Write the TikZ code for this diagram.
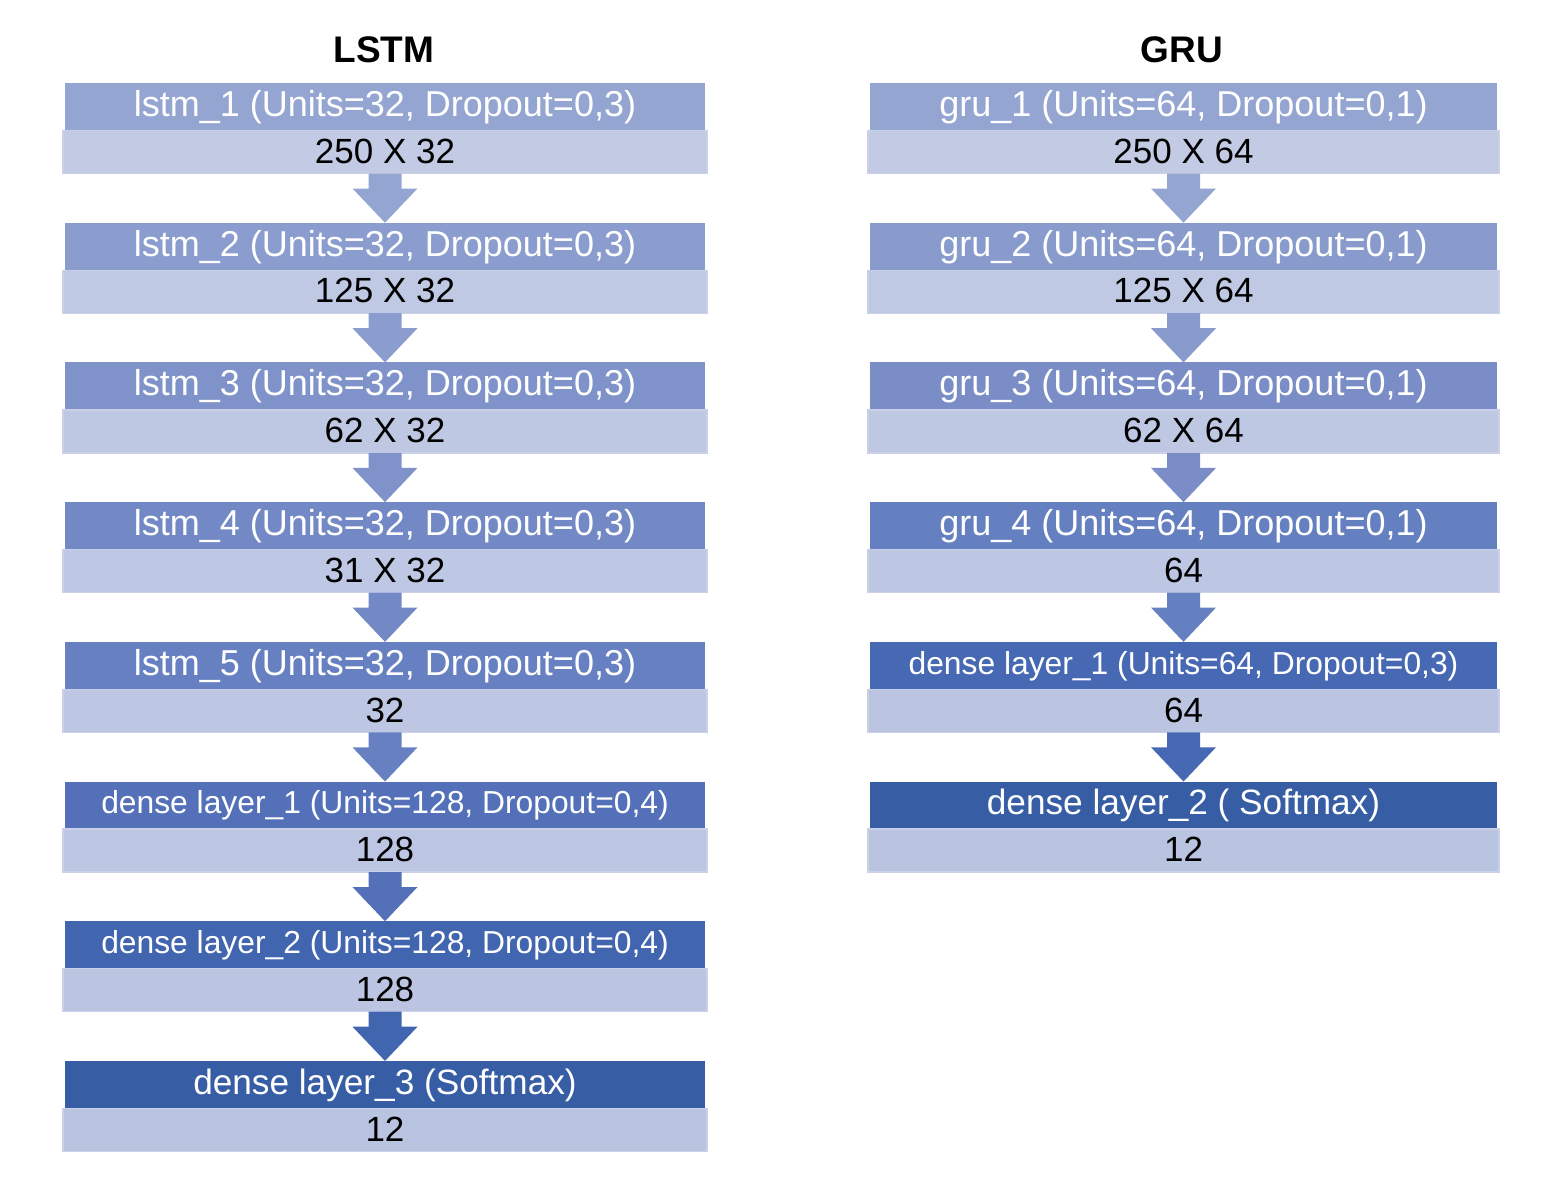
\documentclass[tikz,border=0pt]{standalone}
\usepackage{fontspec}
\setmainfont{Liberation Sans}
\usetikzlibrary{calc}
\definecolor{hA}{HTML}{95A5D2}
\definecolor{hB}{HTML}{8A9DCE}
\definecolor{hC}{HTML}{7F93CA}
\definecolor{hD}{HTML}{7289C6}
\definecolor{hE}{HTML}{6780C2}
\definecolor{hF}{HTML}{5370B9}
\definecolor{hG}{HTML}{4265B0}
\definecolor{hH}{HTML}{375DA4}
\definecolor{gA}{HTML}{95A5D2}
\definecolor{gB}{HTML}{899BCD}
\definecolor{gC}{HTML}{7A8DC6}
\definecolor{gD}{HTML}{6580C0}
\definecolor{gE}{HTML}{4769B4}
\definecolor{gF}{HTML}{375DA4}
\definecolor{sA}{HTML}{C2CAE4}
\definecolor{sB}{HTML}{C0C9E4}
\definecolor{sC}{HTML}{BFC8E3}
\definecolor{sD}{HTML}{BEC7E3}
\definecolor{sE}{HTML}{BDC6E2}
\definecolor{sF}{HTML}{BCC6E2}
\definecolor{sG}{HTML}{BBC5E1}
\definecolor{sH}{HTML}{B9C4E0}
\definecolor{subedge}{HTML}{C9D0E8}
\newcommand\hfont{\fontsize{18}{21}\selectfont}
\newcommand\hsmall{\fontsize{15.9}{19}\selectfont}
\newcommand\hsoft{\fontsize{17.6}{21}\selectfont}
\tikzset{
  hdr/.style={fill=#1, text=white, minimum height=24pt,
    inner sep=0pt, outer sep=0pt, anchor=north},
  subbox/.style={fill=#1, draw=subedge, line width=0.6pt, text=black,
    minimum height=21.5pt, inner sep=0pt, outer sep=0pt,
    anchor=north, font=\fontsize{17.5}{20}\selectfont},
  title/.style={font=\bfseries\fontsize{18.5}{22}\selectfont, text=black}
}
\newcommand\mklayer[9]{%
  \node[hdr=#4, font=#6, minimum width=#9pt] (#1h) at (#2,#3) {#7};
  \node[subbox=#5, minimum width=#9pt+2pt] (#1s) at ($(#1h.south)+(0,-0.5)$) {\raisebox{1pt}{#8}};
}
\newcommand\mkarrow[3]{%
  \fill[#3] ($(#1.south)+(-16.5,0)$) -- ($(#1.south)+(-16.5,15)$)
    -- ($(#1.south)+(-32.5,15)$) -- (#2.north)
    -- ($(#1.south)+(32.5,15)$) -- ($(#1.south)+(16.5,15)$)
    -- ($(#1.south)+(16.5,0)$) -- cycle;
}
\begin{document}
\begin{tikzpicture}[x=0.5pt,y=-0.5pt]
\useasboundingbox (0,0) rectangle (1558,1180);
\node[title] (tl) at (384,50) {LSTM};
\node[title] (tg) at (1182,50) {GRU};
% LSTM column
\mklayer{l1}{385}{83}{hA}{sA}{\hfont}{lstm\_1 (Units=32, Dropout=0,3)}{250 X 32}{320}
\mklayer{l2}{385}{222.7}{hB}{sB}{\hfont}{lstm\_2 (Units=32, Dropout=0,3)}{125 X 32}{320}
\mklayer{l3}{385}{362.4}{hC}{sC}{\hfont}{lstm\_3 (Units=32, Dropout=0,3)}{62 X 32}{320}
\mklayer{l4}{385}{502.1}{hD}{sD}{\hfont}{lstm\_4 (Units=32, Dropout=0,3)}{31 X 32}{320}
\mklayer{l5}{385}{641.8}{hE}{sE}{\hfont}{lstm\_5 (Units=32, Dropout=0,3)}{32}{320}
\mklayer{l6}{385}{781.5}{hF}{sF}{\hsmall}{dense layer\_1 (Units=128, Dropout=0,4)}{128}{320}
\mklayer{l7}{385}{921.2}{hG}{sG}{\hsmall}{dense layer\_2 (Units=128, Dropout=0,4)}{128}{320}
\mklayer{l8}{385}{1060.9}{hH}{sH}{\hsoft}{dense layer\_3 (Softmax)}{12}{320}
\mkarrow{l1s}{l2h}{hA}
\mkarrow{l2s}{l3h}{hB}
\mkarrow{l3s}{l4h}{hC}
\mkarrow{l4s}{l5h}{hD}
\mkarrow{l5s}{l6h}{hE}
\mkarrow{l6s}{l7h}{hF}
\mkarrow{l7s}{l8h}{hG}
% GRU column
\mklayer{g1}{1183.5}{83}{gA}{sA}{\hfont}{gru\_1 (Units=64, Dropout=0,1)}{250 X 64}{313.5}
\mklayer{g2}{1183.5}{222.7}{gB}{sB}{\hfont}{gru\_2 (Units=64, Dropout=0,1)}{125 X 64}{313.5}
\mklayer{g3}{1183.5}{362.4}{gC}{sC}{\hfont}{gru\_3 (Units=64, Dropout=0,1)}{62 X 64}{313.5}
\mklayer{g4}{1183.5}{502.1}{gD}{sE}{\hfont}{gru\_4 (Units=64, Dropout=0,1)}{64}{313.5}
\mklayer{g5}{1183.5}{641.8}{gE}{sG}{\hsmall}{dense layer\_1 (Units=64, Dropout=0,3)}{64}{313.5}
\mklayer{g6}{1183.5}{781.5}{gF}{sH}{\hsoft}{dense layer\_2 ( Softmax)}{12}{313.5}
\mkarrow{g1s}{g2h}{gA}
\mkarrow{g2s}{g3h}{gB}
\mkarrow{g3s}{g4h}{gC}
\mkarrow{g4s}{g5h}{gD}
\mkarrow{g5s}{g6h}{gE}
\end{tikzpicture}
\end{document}
